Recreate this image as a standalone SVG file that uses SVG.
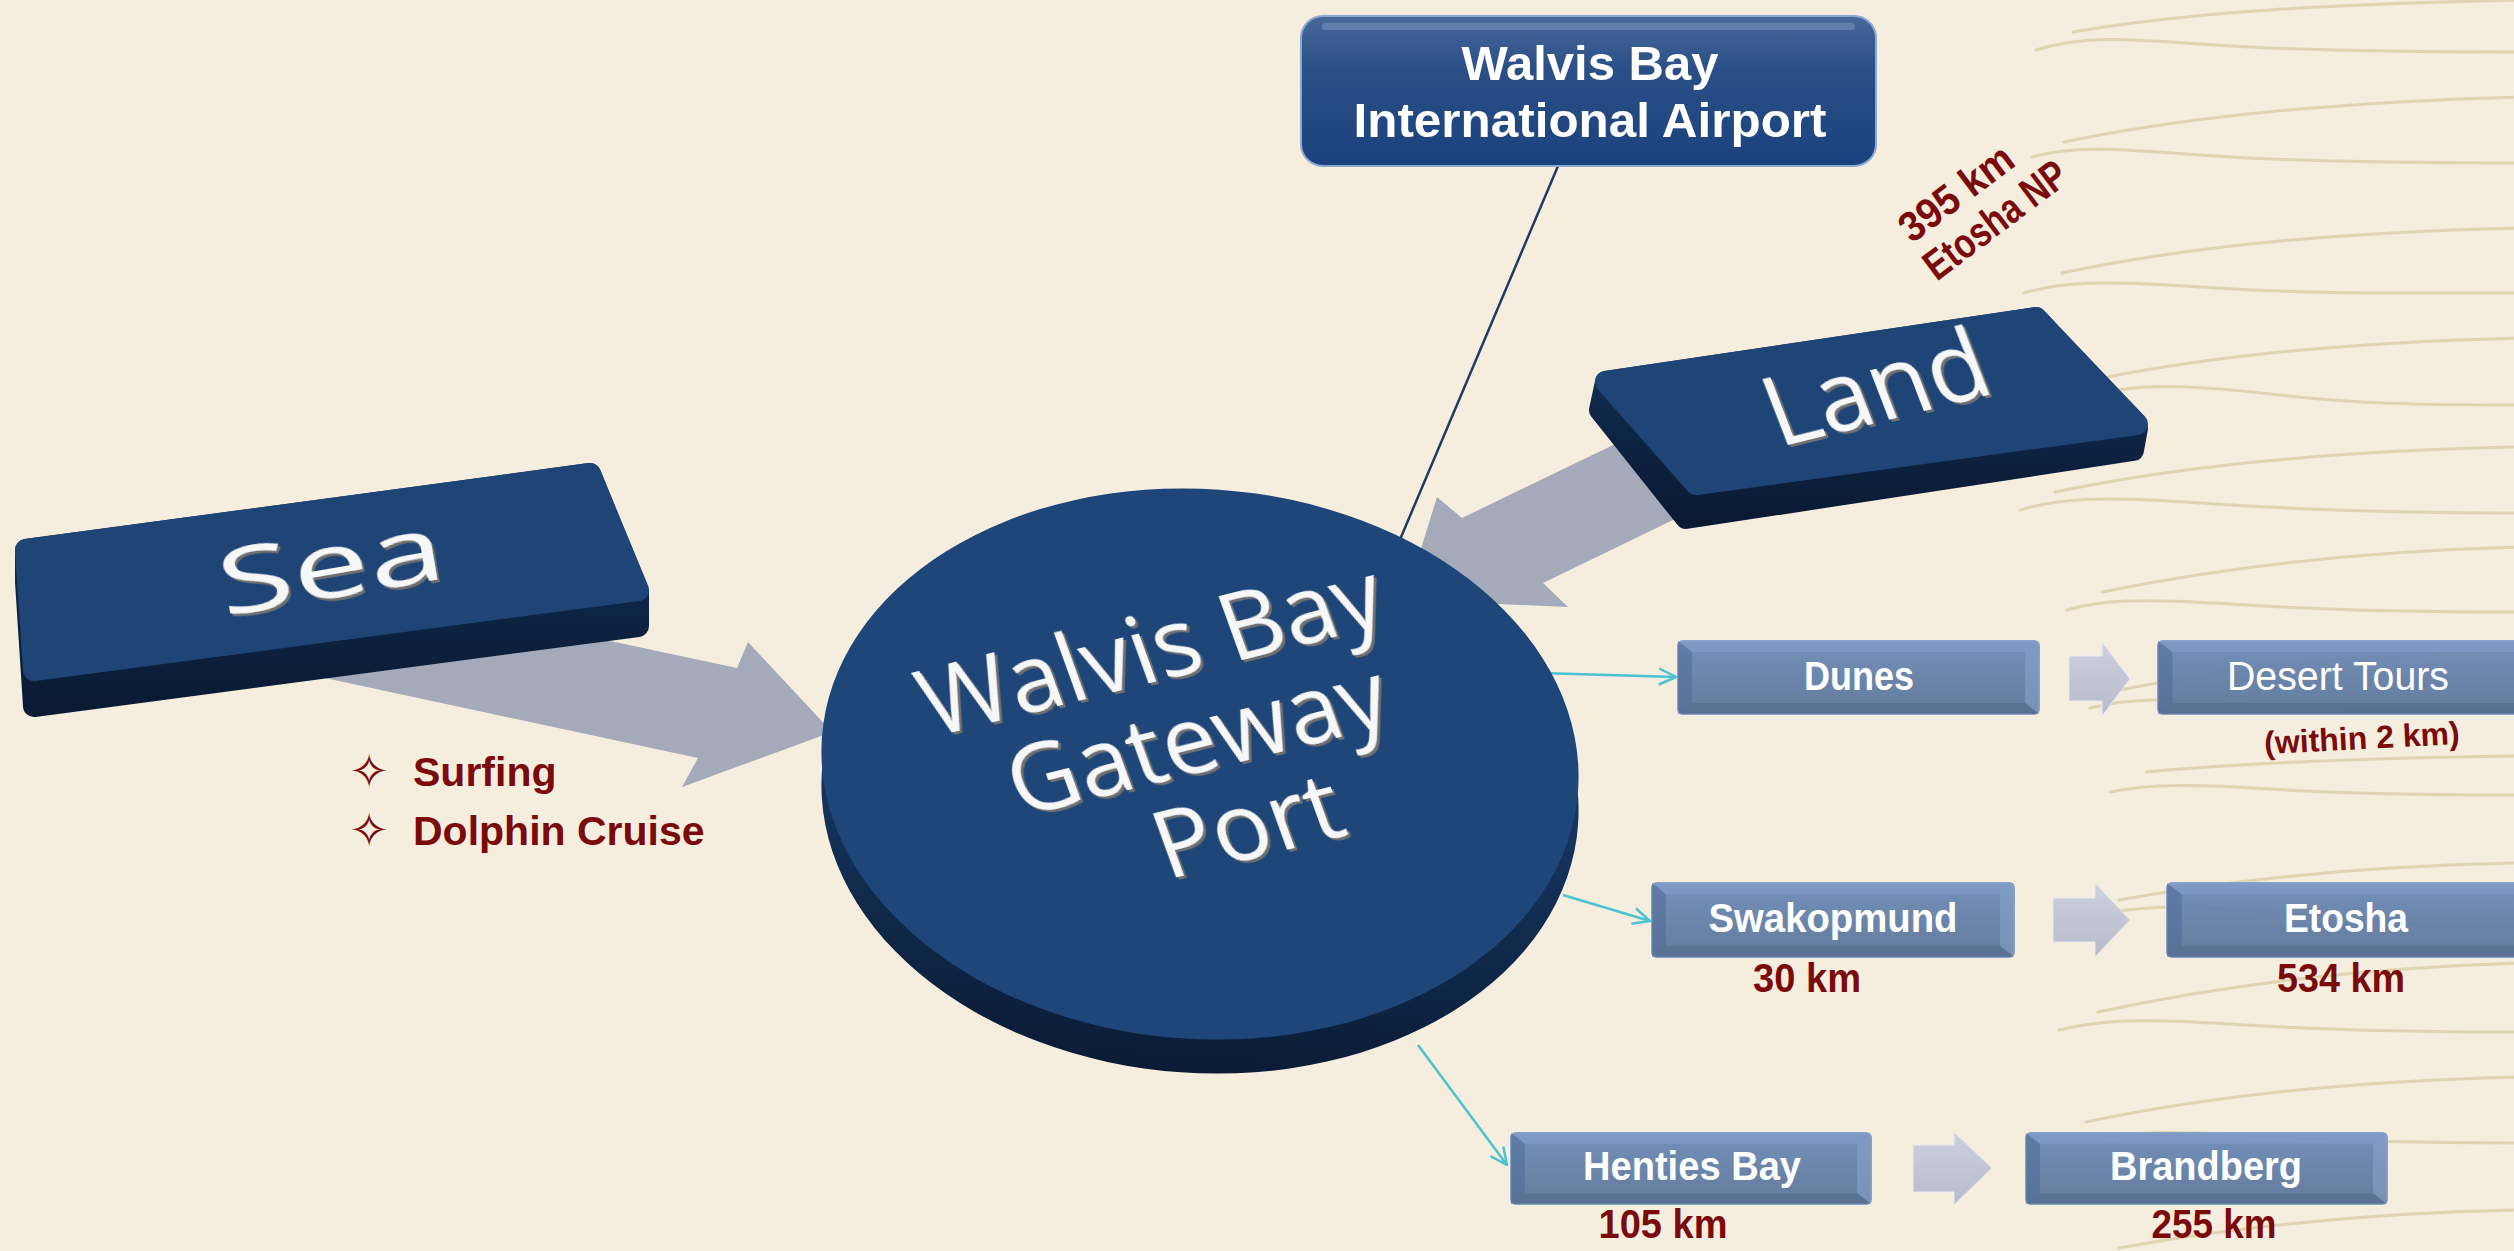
<svg xmlns="http://www.w3.org/2000/svg" width="2514" height="1251" viewBox="0 0 2514 1251">
<defs>
<style>
.bg{fill:#F5EDDE}
.streak{fill:none;stroke:#DCD0AD;stroke-width:3;stroke-linecap:round;opacity:.9}
.cyan{fill:none;stroke:#4BC2D1;stroke-width:2.5}
.navyline{fill:none;stroke:#1D3B68;stroke-width:2.5}
.bigarrow{fill:#A4AAB9}
.smallarrow{fill:url(#arrG);stroke:#E8EAF2;stroke-width:1}
.keyface{fill:#1F4577;stroke:#1F4577;stroke-width:22;stroke-linejoin:round}
.keyside{fill:url(#sideG);stroke:url(#sideG);stroke-width:22;stroke-linejoin:round}
.keytxt{font-family:"Open Sans","DejaVu Sans",sans-serif;fill:#F7F7F7;filter:url(#emb)}
.boxtxt{font-family:"Liberation Sans",Arial,sans-serif;fill:#FFFFFF;font-size:40px;text-anchor:middle}
.red{font-family:"Liberation Sans",Arial,sans-serif;fill:#7B0B0B;font-weight:bold}
.star{font-family:"DejaVu Sans",sans-serif;fill:#7B0B0B;font-size:48px}
.apt{font-family:"Liberation Sans",Arial,sans-serif;fill:#FFFFFF;font-weight:bold;font-size:49px;text-anchor:middle}
</style>
<linearGradient id="sideG" x1="0" y1="0" x2="0" y2="1">
<stop offset="0" stop-color="#13325C"/><stop offset="1" stop-color="#0A1A33"/>
</linearGradient>
<linearGradient id="diskSide" x1="0" y1="0" x2="0" y2="1">
<stop offset="0.5" stop-color="#16365F"/><stop offset="1" stop-color="#0A1B35"/>
</linearGradient>
<linearGradient id="aptG" x1="0" y1="0" x2="0" y2="1">
<stop offset="0" stop-color="#48699A"/><stop offset="0.35" stop-color="#2B4F87"/><stop offset="1" stop-color="#1A427E"/>
</linearGradient>
<linearGradient id="bxG" x1="0" y1="0" x2="0" y2="1">
<stop offset="0" stop-color="#6C8BB8"/><stop offset="1" stop-color="#5A7498"/>
</linearGradient>
<linearGradient id="arrG" x1="0" y1="0" x2="0" y2="1">
<stop offset="0" stop-color="#CDD0DD"/><stop offset="1" stop-color="#B7BBCB"/>
</linearGradient>
<filter id="emb" x="-10%" y="-20%" width="130%" height="150%">
<feDropShadow dx="2" dy="3" stdDeviation="0.6" flood-color="#707070" flood-opacity="1"/>
</filter>
<marker id="open" viewBox="0 0 20 20" refX="19" refY="10" markerWidth="20" markerHeight="20" markerUnits="userSpaceOnUse" orient="auto">
<path d="M2,2 L19,10 L2,18" fill="none" stroke="#4BC2D1" stroke-width="2.5"/>
</marker>
<symbol id="bbox" viewBox="0 0 364 75" preserveAspectRatio="none">
<rect x="0.75" y="0.75" width="362.5" height="73.5" rx="5" fill="url(#bxG)" fill-opacity="0.94" stroke="#88A3CA" stroke-width="1.5"/>
<polygon points="1,1 363,1 349,12 15,12" fill="#86A3CE" opacity="0.55"/>
<polygon points="1,1 15,12 15,63 1,74" fill="#4F6C96" opacity="0.55"/>
<polygon points="363,1 349,12 349,63 363,74" fill="#8CA8D0" opacity="0.5"/>
<polygon points="1,74 15,63 349,63 363,74" fill="#4C6587" opacity="0.45"/>
</symbol>
</defs>

<rect class="bg" x="0" y="0" width="2514" height="1251"/>

<g id="background-streaks">
<path class="streak" d="M2073,32 C2190,12 2330,4 2520,0"/>
<path class="streak" d="M2036,50 C2080,36 2120,38 2200,44 S2400,52 2520,52"/>
<path class="streak" d="M2064,142 C2180,118 2330,102 2520,97"/>
<path class="streak" d="M2032,157 C2070,146 2110,148 2200,155 S2400,163 2520,163"/>
<path class="streak" d="M2062,273 C2180,248 2330,232 2520,228"/>
<path class="streak" d="M2024,293 C2060,282 2100,280 2200,287 S2400,293 2520,293"/>
<path class="streak" d="M2108,377 C2220,355 2350,342 2520,338"/>
<path class="streak" d="M2117,390 C2160,384 2200,386 2280,395 S2420,405 2520,405"/>
<path class="streak" d="M2055,492 C2170,468 2320,451 2520,447"/>
<path class="streak" d="M2020,510 C2060,498 2100,496 2200,503 S2400,513 2520,513"/>
<path class="streak" d="M2102,592 C2210,570 2350,551 2520,547"/>
<path class="streak" d="M2067,610 C2100,600 2140,598 2230,604 S2420,612 2520,612"/>
<path class="streak" d="M2120,690 C2230,668 2360,655 2520,652"/>
<path class="streak" d="M2090,708 C2130,698 2170,698 2250,704 S2420,712 2520,712"/>
<path class="streak" d="M2147,772 C2250,762 2380,758 2520,756"/>
<path class="streak" d="M2110,792 C2150,784 2190,784 2270,789 S2430,795 2520,795"/>
<path class="streak" d="M2119,900 C2230,880 2360,866 2520,863"/>
<path class="streak" d="M2107,913 C2150,905 2190,905 2270,912 S2430,927 2520,927"/>
<path class="streak" d="M2098,1012 C2210,988 2350,968 2520,963"/>
<path class="streak" d="M2059,1030 C2100,1020 2140,1018 2230,1024 S2420,1032 2520,1032"/>
<path class="streak" d="M2086,1122 C2200,1098 2340,1081 2520,1077"/>
<path class="streak" d="M2100,1138 C2150,1130 2200,1132 2280,1137 S2430,1143 2520,1143"/>
<path class="streak" d="M2119,1248 C2230,1228 2360,1213 2520,1210"/>
</g>

<g id="connectors">
<path id="c-airport-port" class="navyline" d="M1558,166 L1385,575"/>
<polygon id="c-sea-port" class="bigarrow" points="300,575 737,668 748,642 832,732 682,787 698,758 250,662"/>
<polygon id="c-land-port" class="bigarrow" points="1696,405 1462,518 1437,497 1405,600 1568,607 1543,583 1741,487"/>
<path id="c-port-dunes" class="cyan" d="M1540,673 L1676,677" marker-end="url(#open)"/>
<path id="c-port-swakopmund" class="cyan" d="M1563,895 L1650,921" marker-end="url(#open)"/>
<path id="c-port-henties" class="cyan" d="M1418,1045 L1507,1165" marker-end="url(#open)"/>
<polygon id="c-dunes-desert" class="smallarrow" points="2069,656 2102,656 2102,642 2130,679 2102,716 2102,701 2069,701"/>
<polygon id="c-swak-etosha" class="smallarrow" points="2053,898 2095,898 2095,883 2130,920 2095,957 2095,942 2053,942"/>
<polygon id="c-henties-brandberg" class="smallarrow" points="1913,1145 1954,1145 1954,1132 1992,1168 1954,1205 1954,1192 1913,1192"/>
</g>

<g id="node-airport">
<rect x="1301" y="16" width="575" height="150" rx="22" fill="url(#aptG)" stroke="#8AA8D2" stroke-width="2"/>
<rect x="1322" y="23" width="533" height="7" rx="3.5" fill="#A9C4E8" opacity="0.3"/>
<text class="apt" x="1590" y="80">Walvis Bay</text>
<text class="apt" x="1590" y="137" textLength="473" lengthAdjust="spacingAndGlyphs">International Airport</text>
</g>

<g id="node-sea">
<polygon class="keyside" points="26,550 26,582 34,706 638,626 638,592 590,474"/>
<polygon class="keyface" points="26,550 590,474 638,590 34,670"/>
<text class="keytxt" font-size="92" text-anchor="middle" textLength="228" lengthAdjust="spacingAndGlyphs" transform="matrix(0.985,-0.17,0.17,0.985,336,597)" x="0" y="0">Sea</text>
<g id="sea-activities">
<text class="star" x="349" y="788">✧</text>
<text class="red" x="413" y="786" font-size="41">Surfing</text>
<text class="star" x="349" y="847">✧</text>
<text class="red" x="413" y="845" font-size="41">Dolphin Cruise</text>
</g>
</g>

<g id="node-land">
<polygon class="keyside" points="1606,382 1600,410 1686,518 2133,450 2137,428 2036,318"/>
<polygon class="keyface" points="1606,382 2036,318 2137,424 1696,484"/>
<text class="keytxt" font-size="98" text-anchor="middle" transform="matrix(0.97,-0.242,0.36,0.933,1888,420)" x="0" y="0">Land</text>
<g id="land-note" transform="translate(1912,244) rotate(-37)">
<text class="red" x="0" y="0" font-size="42" textLength="132" lengthAdjust="spacingAndGlyphs">395 km</text>
<text class="red" x="-3" y="45" font-size="42" textLength="168" lengthAdjust="spacingAndGlyphs">Etosha NP</text>
</g>
</g>

<g id="node-port">
<ellipse cx="1200" cy="798" rx="379" ry="275" transform="rotate(4 1200 798)" fill="url(#diskSide)"/>
<ellipse cx="1200" cy="764" rx="379" ry="275" transform="rotate(4 1200 764)" fill="#1F4679"/>
<g class="keytxt" font-size="96" text-anchor="middle" transform="matrix(0.97,-0.242,0.34,0.94,1162,680)">
<text x="0" y="0">Walvis Bay</text>
<text x="13" y="99">Gateway</text>
<text x="31" y="196">Port</text>
</g>
</g>

<g id="node-dunes">
<use href="#bbox" x="1677" y="640" width="363" height="75"/>
<text class="boxtxt" x="1859" y="690" font-weight="bold" textLength="110" lengthAdjust="spacingAndGlyphs">Dunes</text>
</g>
<g id="node-desert-tours">
<use href="#bbox" x="2157" y="640" width="380" height="75"/>
<text class="boxtxt" x="2338" y="690" textLength="222" lengthAdjust="spacingAndGlyphs">Desert Tours</text>
<text class="red" x="2362" y="749" font-size="32" text-anchor="middle" transform="rotate(-3 2362 740)">(within 2 km)</text>
</g>
<g id="node-swakopmund">
<use href="#bbox" x="1651" y="882" width="364" height="76"/>
<text class="boxtxt" x="1833" y="932" font-weight="bold" textLength="249" lengthAdjust="spacingAndGlyphs">Swakopmund</text>
<text class="red" x="1807" y="992" font-size="40" text-anchor="middle" textLength="108" lengthAdjust="spacingAndGlyphs">30 km</text>
</g>
<g id="node-etosha">
<use href="#bbox" x="2166" y="882" width="380" height="76"/>
<text class="boxtxt" x="2346" y="932" font-weight="bold" textLength="124" lengthAdjust="spacingAndGlyphs">Etosha</text>
<text class="red" x="2341" y="992" font-size="40" text-anchor="middle" textLength="128" lengthAdjust="spacingAndGlyphs">534 km</text>
</g>
<g id="node-henties-bay">
<use href="#bbox" x="1510" y="1132" width="362" height="73"/>
<text class="boxtxt" x="1692" y="1180" font-weight="bold" textLength="218" lengthAdjust="spacingAndGlyphs">Henties Bay</text>
<text class="red" x="1663" y="1238" font-size="40" text-anchor="middle" textLength="129" lengthAdjust="spacingAndGlyphs">105 km</text>
</g>
<g id="node-brandberg">
<use href="#bbox" x="2025" y="1132" width="363" height="73"/>
<text class="boxtxt" x="2206" y="1180" font-weight="bold" textLength="192" lengthAdjust="spacingAndGlyphs">Brandberg</text>
<text class="red" x="2214" y="1238" font-size="40" text-anchor="middle" textLength="125" lengthAdjust="spacingAndGlyphs">255 km</text>
</g>
</svg>
